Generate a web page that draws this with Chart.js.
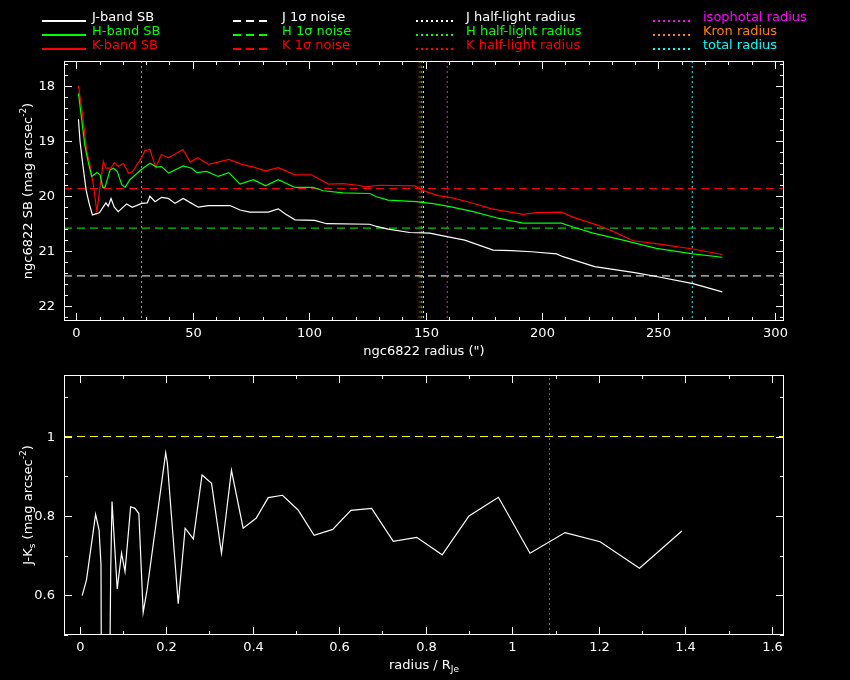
<!DOCTYPE html>
<html>
<head>
<meta charset="utf-8">
<script src="https://cdn.jsdelivr.net/npm/chart.js@4.4.1/dist/chart.umd.min.js"></script>
<style>
  body { margin: 0; background: #000; width: 850px; height: 680px; overflow: hidden; position: relative; }
  canvas, svg { position: absolute; left: 0; }
  #legend { top: 0; z-index: 2; }
  #sbChart { top: 0; }
  #colChart { top: 362px; }
</style>
</head>
<body>
<svg id="legend" width="850" height="58" font-family="DejaVu Sans" font-size="13"></svg>
<canvas id="sbChart" width="850" height="362"></canvas>
<canvas id="colChart" width="850" height="318"></canvas>
<script>
// surface brightness profiles (radius in arcsec, mag/arcsec^2)
const jRad = [0.9, 1.6, 2.7, 4.2, 5.5, 6.9, 9.9, 12.7, 13.7, 14.9, 16.3, 18, 21.6, 24, 28.1, 30.5, 31.6, 33.8, 36.6, 39.5, 42.4, 45.9, 49.5, 52.4, 56.7, 66, 70.3, 74.5, 82.4, 86.7, 89.6, 93.9, 102.4, 107.5, 126, 128.9, 133.9, 143.2, 151.8, 157.5, 166.8, 179, 186.9, 195.5, 206.2, 209, 222.6, 231.9, 239.8, 249.1, 264.8, 277.4];
const jSB = [18.61, 19.02, 19.41, 19.9, 20.14, 20.35, 20.31, 20.13, 20.19, 20.05, 20.21, 20.29, 20.15, 20.21, 20.14, 20.13, 20.01, 20.11, 20.03, 20.05, 20.14, 20.05, 20.14, 20.21, 20.18, 20.18, 20.26, 20.3, 20.3, 20.24, 20.33, 20.44, 20.45, 20.51, 20.52, 20.56, 20.61, 20.67, 20.68, 20.73, 20.81, 20.99, 21.0, 21.02, 21.06, 21.11, 21.29, 21.35, 21.4, 21.47, 21.6, 21.75];

const hRad = [0.9, 3.7, 5.2, 6.6, 8.8, 10.2, 11.3, 12.3, 14.5, 15.9, 17.6, 19.5, 20.9, 23, 27.8, 31.6, 34.5, 36.6, 39.6, 45.9, 49.5, 51.7, 56, 60.9, 65.5, 70.3, 76, 81.3, 86.7, 93.9, 101.7, 106, 114.6, 126, 128.9, 133.9, 146, 153.9, 160.4, 170.4, 181.1, 191.8, 208.3, 213.3, 221.9, 234.8, 249.1, 264.8, 277.4];
const hSB = [18.14, 19.1, 19.41, 19.65, 19.58, 19.62, 19.85, 19.85, 19.53, 19.5, 19.56, 19.8, 19.85, 19.71, 19.53, 19.41, 19.48, 19.47, 19.59, 19.46, 19.5, 19.58, 19.56, 19.65, 19.58, 19.79, 19.71, 19.82, 19.71, 19.85, 19.85, 19.91, 19.95, 19.96, 20.02, 20.08, 20.11, 20.15, 20.2, 20.29, 20.41, 20.5, 20.5, 20.57, 20.68, 20.81, 20.96, 21.06, 21.12];

const kRad = [0.9, 2.6, 4.5, 5.9, 7.3, 8.8, 11.6, 12.6, 14.8, 16.3, 18, 20.2, 22.4, 24.2, 28.1, 29.5, 31.6, 34.1, 36.5, 39.5, 45.8, 48.9, 52.1, 56.7, 61.7, 65.5, 71, 76, 81.3, 86.7, 93.9, 101, 108.2, 114.6, 121, 123.9, 130, 145.4, 148.2, 155.4, 160.4, 168.2, 178.3, 191.8, 197.6, 208.3, 213.3, 223.4, 230.5, 239.1, 250.5, 264.8, 277.4];
const kSB = [18.0, 18.5, 19.2, 19.44, 19.8, 20.29, 19.38, 19.5, 19.5, 19.4, 19.47, 19.41, 19.59, 19.56, 19.3, 19.18, 19.16, 19.49, 19.25, 19.31, 19.16, 19.39, 19.31, 19.43, 19.38, 19.34, 19.43, 19.48, 19.55, 19.49, 19.62, 19.62, 19.79, 19.78, 19.81, 19.84, 19.81, 19.82, 19.9, 20.0, 20.03, 20.11, 20.24, 20.34, 20.31, 20.3, 20.39, 20.53, 20.65, 20.82, 20.88, 20.97, 21.07];

// 1 sigma noise levels J, H, K
const noiseSB = [21.46, 20.59, 19.87];
// half-light radii J, H, K and other radii (arcsec)
const halfLight = [149.0, 148.1, 147.2];
const isoRadius = 159.3;
const kronRadius = 28.0;
const totalRadius = 264.5;

// J-Ks colour profile vs radius / R_Je
const colRad = [0.006, 0.016, 0.037, 0.045, 0.0495, 0.051, 0.068, 0.072, 0.075, 0.087, 0.097, 0.105, 0.118, 0.128, 0.137, 0.147, 0.156, 0.199, 0.203, 0.228, 0.244, 0.263, 0.283, 0.305, 0.328, 0.351, 0.378, 0.408, 0.436, 0.469, 0.505, 0.542, 0.585, 0.627, 0.675, 0.725, 0.779, 0.838, 0.900, 0.968, 1.041, 1.122, 1.203, 1.294, 1.392];
const colJK = [0.599, 0.639, 0.804, 0.765, 0.677, 0.2, 0.2, 0.666, 0.836, 0.616, 0.706, 0.66, 0.823, 0.819, 0.806, 0.557, 0.614, 0.959, 0.932, 0.579, 0.769, 0.742, 0.903, 0.882, 0.706, 0.915, 0.769, 0.794, 0.846, 0.852, 0.815, 0.751, 0.766, 0.814, 0.819, 0.736, 0.746, 0.702, 0.8, 0.847, 0.706, 0.758, 0.735, 0.668, 0.762];
const colRef = 1;
const isoRadiusNorm = 1.086;

// axis ranges
const sbX = [-5.3, 303.9], sbY = [17.55, 22.28];
const colX = [-0.036, 1.628], colY = [0.5, 1.155];

const FONT = '"DejaVu Sans", sans-serif';
const WHITE = '#ffffff', GREEN = '#00ff00', RED = '#ff0000';
const MAGENTA = '#ff00ff', ORANGE = '#ff8000', CYAN = '#00ffff', YELLOW = '#ffff00';
const DASH = [8, 5], DOT = [2, 3];

// legend
const legendCols = [
  { x0: 42, x1: 86, tx: 92, dash: '' },
  { x0: 233, x1: 271, tx: 282, dash: '8,5' },
  { x0: 416, x1: 455, tx: 466, dash: '2,3' },
  { x0: 653, x1: 693, tx: 703, dash: '2,3' }
];
const legendItems = [
  [0, 0, 'J-band SB', WHITE], [0, 1, 'H-band SB', GREEN], [0, 2, 'K-band SB', RED],
  [1, 0, 'J 1σ noise', WHITE], [1, 1, 'H 1σ noise', GREEN], [1, 2, 'K 1σ noise', RED],
  [2, 0, 'J half-light radius', WHITE], [2, 1, 'H half-light radius', GREEN], [2, 2, 'K half-light radius', RED],
  [3, 0, 'isophotal radius', MAGENTA], [3, 1, 'Kron radius', ORANGE], [3, 2, 'total radius', CYAN]
];
const svg = document.getElementById('legend');
const NS = 'http://www.w3.org/2000/svg';
legendItems.forEach(([c, r, label, color]) => {
  const col = legendCols[c], y = 17 + r * 14;
  const ln = document.createElementNS(NS, 'line');
  ln.setAttribute('x1', col.x0); ln.setAttribute('x2', col.x1);
  ln.setAttribute('y1', y + 4); ln.setAttribute('y2', y + 4);
  ln.setAttribute('stroke', color); ln.setAttribute('stroke-width', 2);
  if (col.dash) ln.setAttribute('stroke-dasharray', col.dash);
  svg.appendChild(ln);
  const t = document.createElementNS(NS, 'text');
  t.setAttribute('x', col.tx); t.setAttribute('y', y);
  t.setAttribute('dominant-baseline', 'middle');
  t.setAttribute('fill', color);
  t.textContent = label;
  svg.appendChild(t);
});

// text with sub/superscripts
function richText(ctx, parts, cx, cy, rot) {
  ctx.save();
  ctx.translate(cx, cy);
  ctx.rotate(rot || 0);
  ctx.textAlign = 'left';
  ctx.textBaseline = 'middle';
  let w = 0;
  parts.forEach(p => {
    ctx.font = (p.s ? 9 : 13) + 'px ' + FONT;
    p.w = ctx.measureText(p.t).width;
    w += p.w;
  });
  let xx = -w / 2;
  parts.forEach(p => {
    ctx.font = (p.s ? 9 : 13) + 'px ' + FONT;
    ctx.fillText(p.t, xx, p.s === 'sup' ? -5 : p.s === 'sub' ? 4 : 0);
    xx += p.w;
  });
  ctx.restore();
}

// PGPLOT-like box: frame, inward ticks on all sides, labels, titles
const pgBox = {
  id: 'pgBox',
  afterDraw(chart, args, o) {
    const { ctx, chartArea: a } = chart;
    const xs = chart.scales.x, ys = chart.scales.y;
    ctx.save();
    ctx.strokeStyle = WHITE;
    ctx.fillStyle = WHITE;
    ctx.lineWidth = 1;
    ctx.strokeRect(a.left + 0.5, a.top + 0.5, a.right - a.left - 1, a.bottom - a.top - 1);
    ctx.font = '13px ' + FONT;
    const fmt = v => String(Math.round(v * 1000) / 1000);

    const walk = (scale, minor, major, cb) => {
      for (let k = Math.ceil(scale.min / minor - 1e-6); k * minor <= scale.max + 1e-9; k++) {
        const v = k * minor;
        const isMajor = Math.abs(v / major - Math.round(v / major)) < 1e-6;
        cb(v, Math.round(scale.getPixelForValue(v)) + 0.5, isMajor);
      }
    };
    ctx.beginPath();
    walk(xs, o.xMinor, o.xMajor, (v, px, m) => {
      const len = m ? 8 : 4;
      ctx.moveTo(px, a.bottom); ctx.lineTo(px, a.bottom - len);
      ctx.moveTo(px, a.top); ctx.lineTo(px, a.top + len);
    });
    walk(ys, o.yMinor, o.yMajor, (v, py, m) => {
      const len = m ? 8 : 4;
      ctx.moveTo(a.left, py); ctx.lineTo(a.left + len, py);
      ctx.moveTo(a.right, py); ctx.lineTo(a.right - len, py);
    });
    ctx.stroke();

    ctx.textAlign = 'center';
    ctx.textBaseline = 'middle';
    walk(xs, o.xMinor, o.xMajor, (v, px, m) => {
      if (m) ctx.fillText(fmt(v), px, a.bottom + 13);
    });
    ctx.textAlign = 'right';
    walk(ys, o.yMinor, o.yMajor, (v, py, m) => {
      if (m) ctx.fillText(fmt(v), a.left - 9, py);
    });
    richText(ctx, o.xTitle, (a.left + a.right) / 2, a.bottom + 31, 0);
    richText(ctx, o.yTitle, 29, (a.top + a.bottom) / 2, -Math.PI / 2);
    ctx.restore();
  }
};

const pts = (xs, ys) => xs.map((x, i) => ({ x, y: ys[i] }));
const line = (data, color, dash) => ({
  data, borderColor: color, borderWidth: dash ? 1 : 1.2, borderDash: dash || [],
  pointRadius: 0, tension: 0, fill: false
});
const hLine = (range, y) => [{ x: range[0], y }, { x: range[1], y }];
const vLine = (range, x) => [{ x, y: range[0] }, { x, y: range[1] }];

const baseOptions = (xr, yr, pad, reverse, box) => ({
  responsive: false,
  animation: false,
  devicePixelRatio: 1,
  layout: { padding: pad },
  plugins: { legend: { display: false }, tooltip: { enabled: false }, pgBox: box },
  scales: {
    x: { type: 'linear', min: xr[0], max: xr[1], display: false },
    y: { type: 'linear', min: yr[0], max: yr[1], reverse, display: false }
  }
});

new Chart(document.getElementById('sbChart'), {
  type: 'line',
  data: {
    datasets: [
      line(pts(jRad, jSB), WHITE),
      line(pts(hRad, hSB), GREEN),
      line(pts(kRad, kSB), RED),
      line(hLine(sbX, noiseSB[0]), WHITE, DASH),
      line(hLine(sbX, noiseSB[1]), GREEN, DASH),
      line(hLine(sbX, noiseSB[2]), RED, DASH),
      line(vLine(sbY, halfLight[0]), WHITE, DOT),
      line(vLine(sbY, halfLight[1]), GREEN, DOT),
      line(vLine(sbY, halfLight[2]), RED, DOT),
      line(vLine(sbY, isoRadius), MAGENTA, DOT),
      line(vLine(sbY, kronRadius), ORANGE, DOT),
      line(vLine(sbY, totalRadius), CYAN, DOT)
    ]
  },
  options: baseOptions(sbX, sbY, { left: 64, top: 61, right: 66, bottom: 41 }, true, {
    xMinor: 10, xMajor: 50, yMinor: 0.2, yMajor: 1,
    xTitle: [{ t: 'ngc6822 radius (")' }],
    yTitle: [{ t: 'ngc6822 SB (mag arcsec' }, { t: '-2', s: 'sup' }, { t: ')' }]
  }),
  plugins: [pgBox]
});

new Chart(document.getElementById('colChart'), {
  type: 'line',
  data: {
    datasets: [
      line(pts(colRad, colJK), WHITE),
      line(hLine(colX, colRef), YELLOW, DASH),
      line(vLine(colY, isoRadiusNorm), MAGENTA, DOT)
    ]
  },
  options: baseOptions(colX, colY, { left: 64, top: 13, right: 66, bottom: 45 }, false, {
    xMinor: 0.1, xMajor: 0.2, yMinor: 0.1, yMajor: 0.2,
    xTitle: [{ t: 'radius / R' }, { t: 'Je', s: 'sub' }],
    yTitle: [{ t: 'J-K' }, { t: 's', s: 'sub' }, { t: ' (mag arcsec' }, { t: '-2', s: 'sup' }, { t: ')' }]
  }),
  plugins: [pgBox]
});
</script>
</body>
</html>
